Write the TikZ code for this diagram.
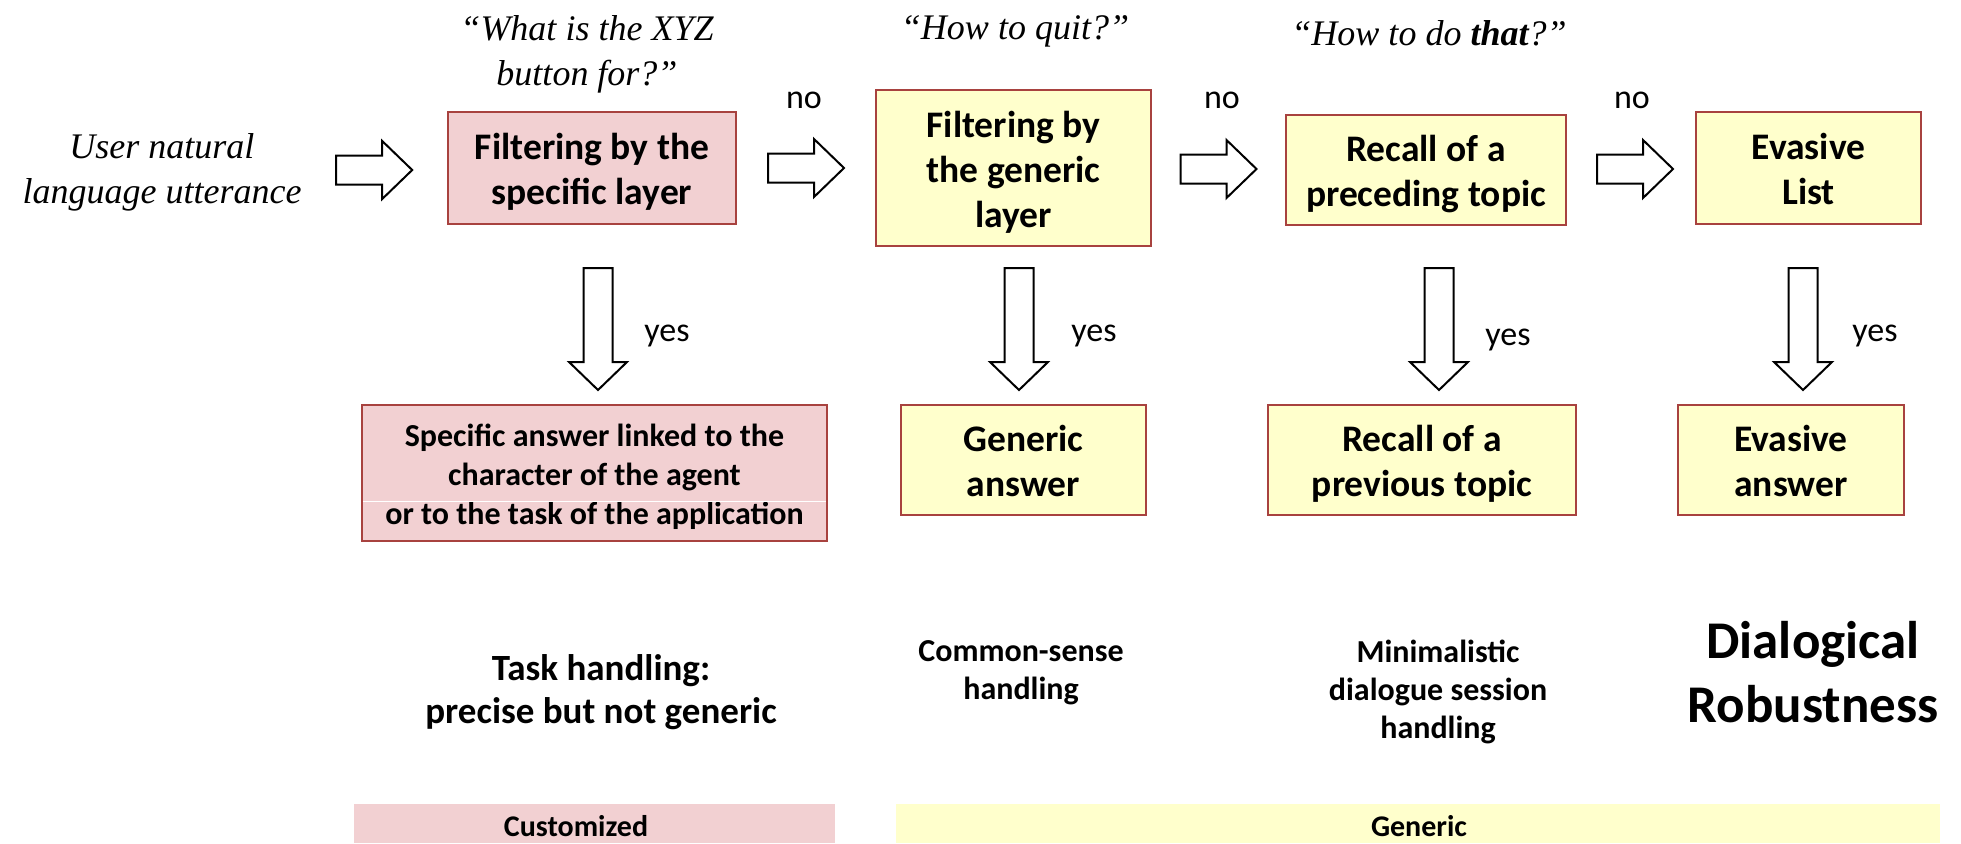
\documentclass[tikz,border=0pt]{standalone}
\usepackage{fontspec}
\setmainfont{Carlito}
\newfontfamily\quotefont{Liberation Serif}
\usetikzlibrary{calc}

\definecolor{custfill}{HTML}{F2D0D2}
\definecolor{genfill}{HTML}{FFFFCC}
\definecolor{boxedge}{HTML}{A8423F}

\newcommand{\fsz}[2]{\fontsize{#1pt}{#2pt}\selectfont}
% centred lines on a fixed baseline grid, set slightly low in the box
\newcommand{\lines}[1]{\raisebox{-5pt}[\height][\depth]{\begin{tabular}{@{}c@{}}#1\end{tabular}}}

\tikzset{
  layerbox/.style={draw=boxedge, line width=2.5pt, inner sep=0pt,
    font=\fsz{37.5}{45}\bfseries},
  custbox/.style={layerbox, fill=custfill},
  genbox/.style={layerbox, fill=genfill},
  quote/.style={font=\quotefont\itshape\fsz{36}{45}, align=center, inner sep=0pt},
  verdict/.style={font=\fsz{34}{40}, inner sep=0pt},
  caption/.style={font=\bfseries\fsz{32}{38}, align=center, inner sep=0pt},
  band/.style={inner sep=0pt, font=\bfseries\fsz{30}{36}},
  arrowline/.style={draw=black, line width=2pt, fill=white, line join=miter},
  rightarrow/.pic={\path[arrowline] (-38,-14.5) -- (8,-14.5) -- (8,-29) -- (38,0)
      -- (8,29) -- (8,14.5) -- (-38,14.5) -- cycle;},
  downarrow/.pic={\path[arrowline] (-14.5,-61) -- (14.5,-61) -- (14.5,33) -- (29,33)
      -- (0,61) -- (-29,33) -- (-14.5,33) -- cycle;}
}

\begin{document}
\begin{tikzpicture}[x=1pt, y=-1pt]
  \useasboundingbox (0,0) rectangle (1961,843);

  % input utterance
  \node[quote] (input) at (162,172) {User natural\\language utterance};

  % filtering chain
  \node[custbox, minimum width=288pt, minimum height=112pt] (f1) at (592,168)
    {\lines{Filtering by the\\specific layer}};
  \node[genbox, minimum width=275pt, minimum height=156pt] (f2) at (1013.5,168)
    {\lines{Filtering by\\the generic\\layer}};
  \node[genbox, minimum width=280pt, minimum height=110pt] (f3) at (1426,170)
    {\lines{Recall of a\\preceding topic}};
  \node[genbox, minimum width=225pt, minimum height=112pt] (f4) at (1808.5,168)
    {\lines{Evasive\\List}};

  % example questions
  \node[quote] (q1) at (587,54) {“What is the XYZ\\button for?”};
  \node[quote] (q2) at (1015,31) {“How to quit?”};
  \node[quote] (q3) at (1429,33) {“How to do \textbf{that}?”};

  % answers
  \node[custbox, minimum width=465pt, minimum height=136pt, font=\bfseries\fsz{32}{39}] (a1) at (594.5,473)
    {\lines{Specific answer linked to the\\character of the agent\\or to the task of the application}};
  \draw[white, line width=1pt] ([xshift=2pt]a1.west |- 0,501) -- ([xshift=-2pt]a1.east |- 0,501);
  \node[genbox, minimum width=245pt, minimum height=110pt] (a2) at (1023.5,460)
    {\lines{Generic\\answer}};
  \node[genbox, minimum width=308pt, minimum height=110pt] (a3) at (1422,460)
    {\lines{Recall of a\\previous topic}};
  \node[genbox, minimum width=226pt, minimum height=110pt] (a4) at (1791,460)
    {\lines{Evasive\\answer}};

  % "no" transitions
  \pic at ($(input.east)!0.5!(f1.west)$) {rightarrow};
  \pic at ($(f1.east)!0.5!(f2.west)$) {rightarrow};
  \pic at ($(f2.east)!0.5!(f3.west)$) {rightarrow};
  \pic at ($(f3.east)!0.5!(f4.west)+(4,0)$) {rightarrow};
  \node[verdict] (n1) at (804,100) {no};
  \node[verdict] (n2) at (1222,100) {no};
  \node[verdict] (n3) at (1632,100) {no};

  % "yes" transitions
  \coordinate (d1) at (598,329);
  \coordinate (d2) at (1019,329);
  \coordinate (d3) at (1439,329);
  \coordinate (d4) at (1803,329);
  \foreach \d in {d1,d2,d3,d4} \pic at (\d) {downarrow};
  \node[verdict] (y1) at (667,336) {yes};
  \node[verdict] (y2) at (1094,336) {yes};
  \node[verdict] (y3) at (1508,340) {yes};
  \node[verdict] (y4) at (1875,336) {yes};

  % handling categories
  \node[caption, font=\bfseries\fsz{37}{43}] (c1) at (601,692) {Task handling:\\precise but not generic};
  \node[caption] (c2) at (1021,673) {Common-sense\\handling};
  \node[caption] (c3) at (1438,692) {Minimalistic\\dialogue session\\handling};
  \node[caption, font=\bfseries\fsz{53}{64}] (c4) at (1813,672) {Dialogical\\Robustness};

  % layer bands
  \node[band, fill=custfill, minimum width=481pt, minimum height=39pt] (b1) at (594.5,823.5) {};
  \node[band] (b1t) at (576,826) {Customized};
  \node[band, fill=genfill, minimum width=1044pt, minimum height=39pt] (b2) at (1418,823.5) {};
  \node[band] (b2t) at (1419,826) {Generic};
\end{tikzpicture}
\end{document}
